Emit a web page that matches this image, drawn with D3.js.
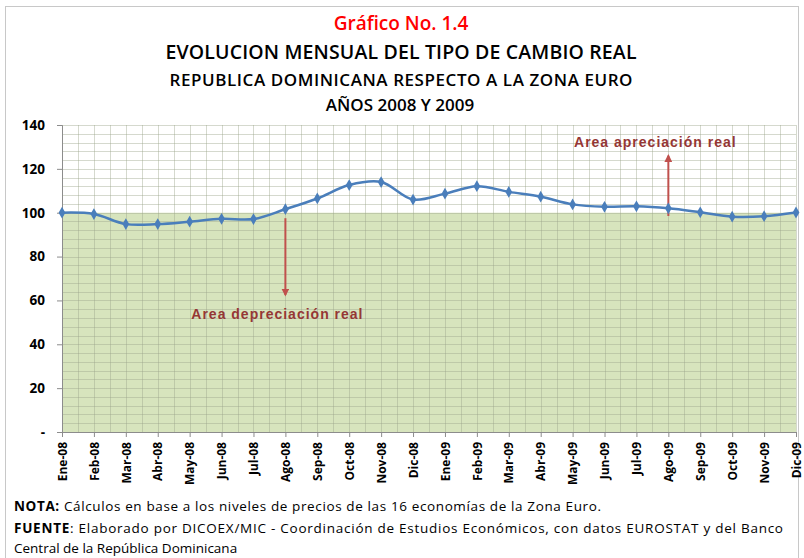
<!DOCTYPE html>
<meta charset="utf-8">
<style>
body { margin: 0; background: #fff; }
.title { font-family: "Open Sans", sans-serif; text-anchor: middle; }
.axis text { font-family: "Open Sans", sans-serif; font-weight: bold; fill: #000; }
.note { font-family: "Open Sans", sans-serif; font-size: 13.5px; fill: #000; }
.ann { font-family: "Liberation Sans", Arial, sans-serif; font-weight: bold; font-size: 14px; fill: #953735; letter-spacing: 1px; }
</style>
<body>
<script src="https://d3js.org/d3.v7.min.js"></script>
<script>
// months and index values
var months = ["Ene-08","Feb-08","Mar-08","Abr-08","May-08","Jun-08","Jul-08","Ago-08","Sep-08","Oct-08","Nov-08","Dic-08",
              "Ene-09","Feb-09","Mar-09","Abr-09","May-09","Jun-09","Jul-09","Ago-09","Sep-09","Oct-09","Nov-09","Dic-09"];
var values = [100.0, 99.4, 94.8, 94.8, 95.9, 97.2, 97.1, 101.6, 106.5, 112.6, 114.0, 106.0,
              108.7, 112.1, 109.5, 107.3, 103.8, 102.7, 102.9, 102.0, 100.2, 98.2, 98.4, 100.1];
var yTicks = [0, 20, 40, 60, 80, 100, 120, 140];
var baseLevel = 100;

var width = 804, height = 558;
var margin = {top: 125, right: 8, bottom: 126, left: 62};

var svg = d3.select("body").append("svg")
    .attr("width", width)
    .attr("height", height);

// outer frame
svg.append("rect")
    .attr("x", 5.5).attr("y", 6.5)
    .attr("width", 793).attr("height", 560)
    .attr("fill", "none")
    .attr("stroke", "#c8c8c8");

// titles
svg.append("text").attr("class", "title")
    .attr("x", 401).attr("y", 30)
    .style("font-size", "19px").style("font-weight", "600").style("fill", "#ff0000")
    .text("Gráfico No. 1.4");
svg.append("text").attr("class", "title")
    .attr("x", 401).attr("y", 59)
    .style("font-size", "19.5px").style("font-weight", "600")
    .attr("textLength", 471)
    .text("EVOLUCION MENSUAL DEL TIPO DE CAMBIO REAL");
svg.append("text").attr("class", "title")
    .attr("x", 401).attr("y", 86)
    .style("font-size", "17px").style("font-weight", "600")
    .attr("textLength", 463)
    .text("REPUBLICA DOMINICANA RESPECTO A LA ZONA EURO");
svg.append("text").attr("class", "title")
    .attr("x", 400).attr("y", 111)
    .style("font-size", "17px").style("font-weight", "600")
    .text("AÑOS 2008 Y 2009");

var x = d3.scalePoint().domain(months).range([margin.left, width - margin.right]);
var y = d3.scaleLinear().domain([0, 140]).range([height - margin.bottom, margin.top]);

// shaded area below 100
svg.append("rect")
    .attr("x", x.range()[0]).attr("y", y(baseLevel))
    .attr("width", x.range()[1] - x.range()[0])
    .attr("height", y(0) - y(baseLevel))
    .attr("fill", "#d7e4bd");

// gridlines: horizontal every 4 units, vertical every half month
var grid = svg.append("g").attr("stroke", "#9aa58a").attr("stroke-opacity", 0.42).attr("stroke-width", 1);
d3.range(4, 141, 4).forEach(function(v) {
  grid.append("line")
      .attr("x1", x.range()[0]).attr("x2", x.range()[1])
      .attr("y1", Math.round(y(v)) + 0.5).attr("y2", Math.round(y(v)) + 0.5);
});
var half = x.step() / 2;
d3.range(0, months.length * 2 - 1).forEach(function(i) {
  var xp = x.range()[0] + i * half;
  grid.append("line")
      .attr("x1", Math.round(xp) + 0.5).attr("x2", Math.round(xp) + 0.5)
      .attr("y1", y(140)).attr("y2", y(0));
});

// axes
var yAxis = svg.append("g").attr("class", "axis")
    .attr("transform", "translate(" + margin.left + ",0)")
    .call(d3.axisLeft(y).tickValues(yTicks).tickSize(5).tickPadding(12)
      .tickFormat(function(d) { return d === 0 ? "-" : d; }));
yAxis.selectAll("text").style("font-size", "13.5px");
yAxis.selectAll("path, line").attr("stroke", "#8c8c8c");

var xAxis = svg.append("g").attr("class", "axis")
    .attr("transform", "translate(0," + y(0) + ")")
    .call(d3.axisBottom(x).tickSize(5).tickSizeOuter(0));
xAxis.selectAll("path, line").attr("stroke", "#8c8c8c");
xAxis.selectAll("text")
    .style("font-size", "12px")
    .attr("transform", "rotate(-90)")
    .attr("text-anchor", "end")
    .attr("x", -10).attr("y", 0).attr("dy", "0.35em");

// annotations: arrows
var defs = svg.append("defs");
defs.append("marker")
    .attr("id", "head").attr("viewBox", "0 0 10 10")
    .attr("refX", 8).attr("refY", 5)
    .attr("markerWidth", 4).attr("markerHeight", 4)
    .attr("orient", "auto")
  .append("path").attr("d", "M0,0 L10,5 L0,10 z").attr("fill", "#c0504d");

var arrows = [
  {month: "Ago-08", from: 97.5, to: 62.5},
  {month: "Ago-09", from: 98.5, to: 126}
];
svg.selectAll(".arrow").data(arrows).enter().append("line")
    .attr("class", "arrow")
    .attr("x1", function(d) { return x(d.month); })
    .attr("x2", function(d) { return x(d.month); })
    .attr("y1", function(d) { return y(d.from); })
    .attr("y2", function(d) { return y(d.to); })
    .attr("stroke", "#c0504d").attr("stroke-width", 2)
    .attr("marker-end", "url(#head)");

svg.append("text").attr("class", "ann")
    .attr("x", x("Ago-08") - 8).attr("y", y(51.5))
    .attr("text-anchor", "middle")
    .text("Area depreciación real");
svg.append("text").attr("class", "ann")
    .attr("x", x("Ago-09") - 13).attr("y", y(130))
    .attr("text-anchor", "middle")
    .text("Area apreciación real");

// the series line (smoothed) with diamond markers
var line = d3.line()
    .x(function(d, i) { return x(months[i]); })
    .y(function(d) { return y(d); })
    .curve(d3.curveCatmullRom.alpha(0.5));
svg.append("path")
    .datum(values)
    .attr("fill", "none")
    .attr("stroke", "#4a7ebb")
    .attr("stroke-width", 2.5)
    .attr("d", line);

svg.selectAll(".pt").data(values).enter().append("path")
    .attr("class", "pt")
    .attr("d", d3.symbol().type(d3.symbolDiamond).size(40))
    .attr("transform", function(d, i) { return "translate(" + x(months[i]) + "," + y(d) + ")"; })
    .attr("fill", "#4a7ebb");

// notes
var n1 = svg.append("text").attr("class", "note").attr("x", 14).attr("y", 511)
    .attr("textLength", 587);
n1.append("tspan").style("font-weight", "bold").text("NOTA:");
n1.append("tspan").text(" Cálculos en base a los niveles de precios de las 16 economías de la Zona Euro.");
var n2 = svg.append("text").attr("class", "note").attr("x", 14).attr("y", 533)
    .attr("textLength", 769);
n2.append("tspan").style("font-weight", "bold").text("FUENTE");
n2.append("tspan").text(": Elaborado por DICOEX/MIC - Coordinación de Estudios Económicos, con datos EUROSTAT y del Banco");
svg.append("text").attr("class", "note").attr("x", 14).attr("y", 553)
    .text("Central de la República Dominicana");
</script>
</body>
